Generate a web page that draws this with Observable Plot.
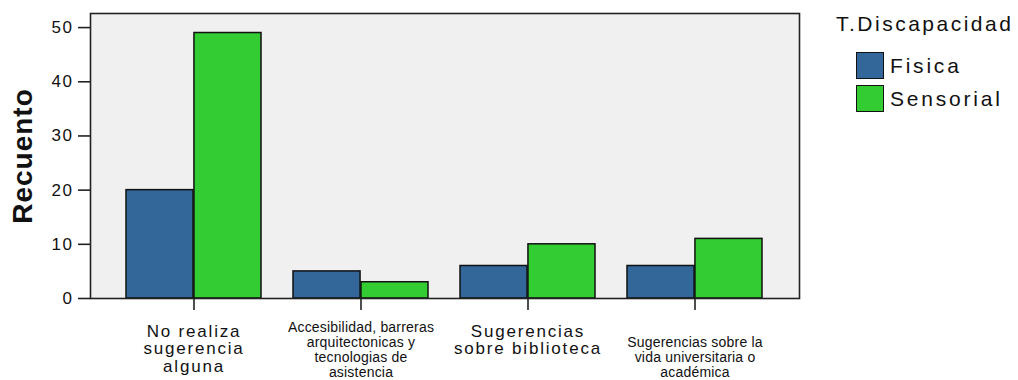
<!DOCTYPE html>
<html>
<head>
<meta charset="utf-8">
<script src="https://cdn.jsdelivr.net/npm/d3@7"></script>
<script src="https://cdn.jsdelivr.net/npm/@observablehq/plot@0.6"></script>
<style>
  html, body { margin: 0; padding: 0; background: #fff; }
  #wrap { position: relative; width: 1018px; height: 380px; font-family: "Liberation Sans", Arial, sans-serif; }
  #legend { position: absolute; left: 836px; top: 12px; color: #111; }
  #legend .title { font-size: 21px; letter-spacing: 2.5px; line-height: 24px; margin-bottom: 13px; }
  #legend .item { display: flex; align-items: center; margin-left: 20px; height: 33px; font-size: 21px; letter-spacing: 2.8px; }
  #legend .sw { width: 28px; height: 27px; border: 1.5px solid #111; margin-right: 6px; box-sizing: border-box; }
</style>
</head>
<body>
<div id="wrap"><div id="chart"></div><div id="legend"></div></div>
<script>
const categories = [
  "No realiza sugerencia alguna",
  "Accesibilidad, barreras arquitectonicas y tecnologias de asistencia",
  "Sugerencias sobre biblioteca",
  "Sugerencias sobre la vida universitaria o academica"
];
const categoryLines = [
  "No realiza\nsugerencia\nalguna",
  "Accesibilidad, barreras\narquitectonicas y\ntecnologias de\nasistencia",
  "Sugerencias\nsobre biblioteca",
  "Sugerencias sobre la\nvida universitaria o\nacadémica"
];
const seriesNames = ["Fisica", "Sensorial"];
const fisica = [20, 5, 6, 6];
const sensorial = [49, 3, 10, 11];
const seriesColors = ["#336699", "#33cc33"];
const yTicks = [0, 10, 20, 30, 40, 50];
const legendTitle = "T.Discapacidad";
const yLabel = "Recuento";

const W = 1018, H = 380;
const mL = 90, mR = 219, mT = 13, mB = 82;
const padInner = 0.19, padOuter = 0.208;

const data = [];
categories.forEach((c, i) => {
  data.push({category: c, series: seriesNames[0], value: fisica[i]});
  data.push({category: c, series: seriesNames[1], value: sensorial[i]});
});
const labels = categories.map((c, i) => ({category: c, text: categoryLines[i]}));

const bw = d3.scaleBand().domain(categories).range([mL, W - mR])
  .paddingInner(padInner).paddingOuter(padOuter).bandwidth();
const half = bw / 2;

const chart = Plot.plot({
  width: W, height: H,
  marginLeft: mL, marginRight: mR, marginTop: mT, marginBottom: mB,
  style: {fontFamily: "'Liberation Sans', Arial, sans-serif", color: "#111", background: "#fff"},
  x: {domain: categories, paddingInner: padInner, paddingOuter: padOuter, axis: null},
  y: {domain: [0, 52.6], axis: null},
  marks: [
    Plot.frame({fill: "#f0f0f0", stroke: null}),
    Plot.barY(data.filter(d => d.series === seriesNames[0]), {
      x: "category", y: "value", fill: seriesColors[0], stroke: "#111", strokeWidth: 1.5, insetRight: half
    }),
    Plot.barY(data.filter(d => d.series === seriesNames[1]), {
      x: "category", y: "value", fill: seriesColors[1], stroke: "#111", strokeWidth: 1.5, insetLeft: half
    }),
    Plot.frame({stroke: "#222", strokeWidth: 1.6}),
    Plot.axisY({ticks: yTicks, tickSize: 12, tickPadding: 5, fontSize: 17, label: null, stroke: "#222", strokeWidth: 1.6}),
    Plot.axisX({tickSize: 12, tickFormat: () => "", label: null, stroke: "#222", strokeWidth: 1.6}),
    Plot.text(labels.filter((d, i) => i === 0 || i === 2), {
      x: "category", text: "text", frameAnchor: "bottom", lineAnchor: "top", dy: 26, fontSize: 17, lineHeight: 1.03, fill: "#111"
    }),
    Plot.text(labels.filter((d, i) => i === 1), {
      x: "category", text: "text", frameAnchor: "bottom", lineAnchor: "top", dy: 23, fontSize: 14, lineHeight: 1.07, fill: "#111"
    }),
    Plot.text(labels.filter((d, i) => i === 3), {
      x: "category", text: "text", frameAnchor: "bottom", lineAnchor: "top", dy: 38, fontSize: 14, lineHeight: 1.07, fill: "#111"
    }),
    Plot.text([yLabel], {
      frameAnchor: "left", textAnchor: "middle", rotate: -90, dx: -67, fontSize: 28, fontWeight: "bold", fill: "#111"
    })
  ]
});
document.getElementById("chart").appendChild(chart);

const textGroups = d3.select(chart).selectAll('g[aria-label="text"]').nodes();
if (textGroups[0]) textGroups[0].setAttribute("letter-spacing", "1.8px");
if (textGroups[1]) textGroups[1].setAttribute("letter-spacing", "0.2px");
if (textGroups[2]) textGroups[2].setAttribute("letter-spacing", "0.2px");
if (textGroups[3]) textGroups[3].setAttribute("letter-spacing", "1px");
d3.select(chart).selectAll('g[aria-label="y-axis tick label"]').attr("letter-spacing", "1.5px");

const legend = document.getElementById("legend");
const t = document.createElement("div");
t.className = "title"; t.textContent = legendTitle;
legend.appendChild(t);
seriesNames.forEach((s, i) => {
  const it = document.createElement("div");
  it.className = "item";
  const sw = document.createElement("div");
  sw.className = "sw"; sw.style.background = seriesColors[i];
  const lb = document.createElement("span");
  lb.textContent = s;
  it.appendChild(sw); it.appendChild(lb);
  legend.appendChild(it);
});
</script>
</body>
</html>
